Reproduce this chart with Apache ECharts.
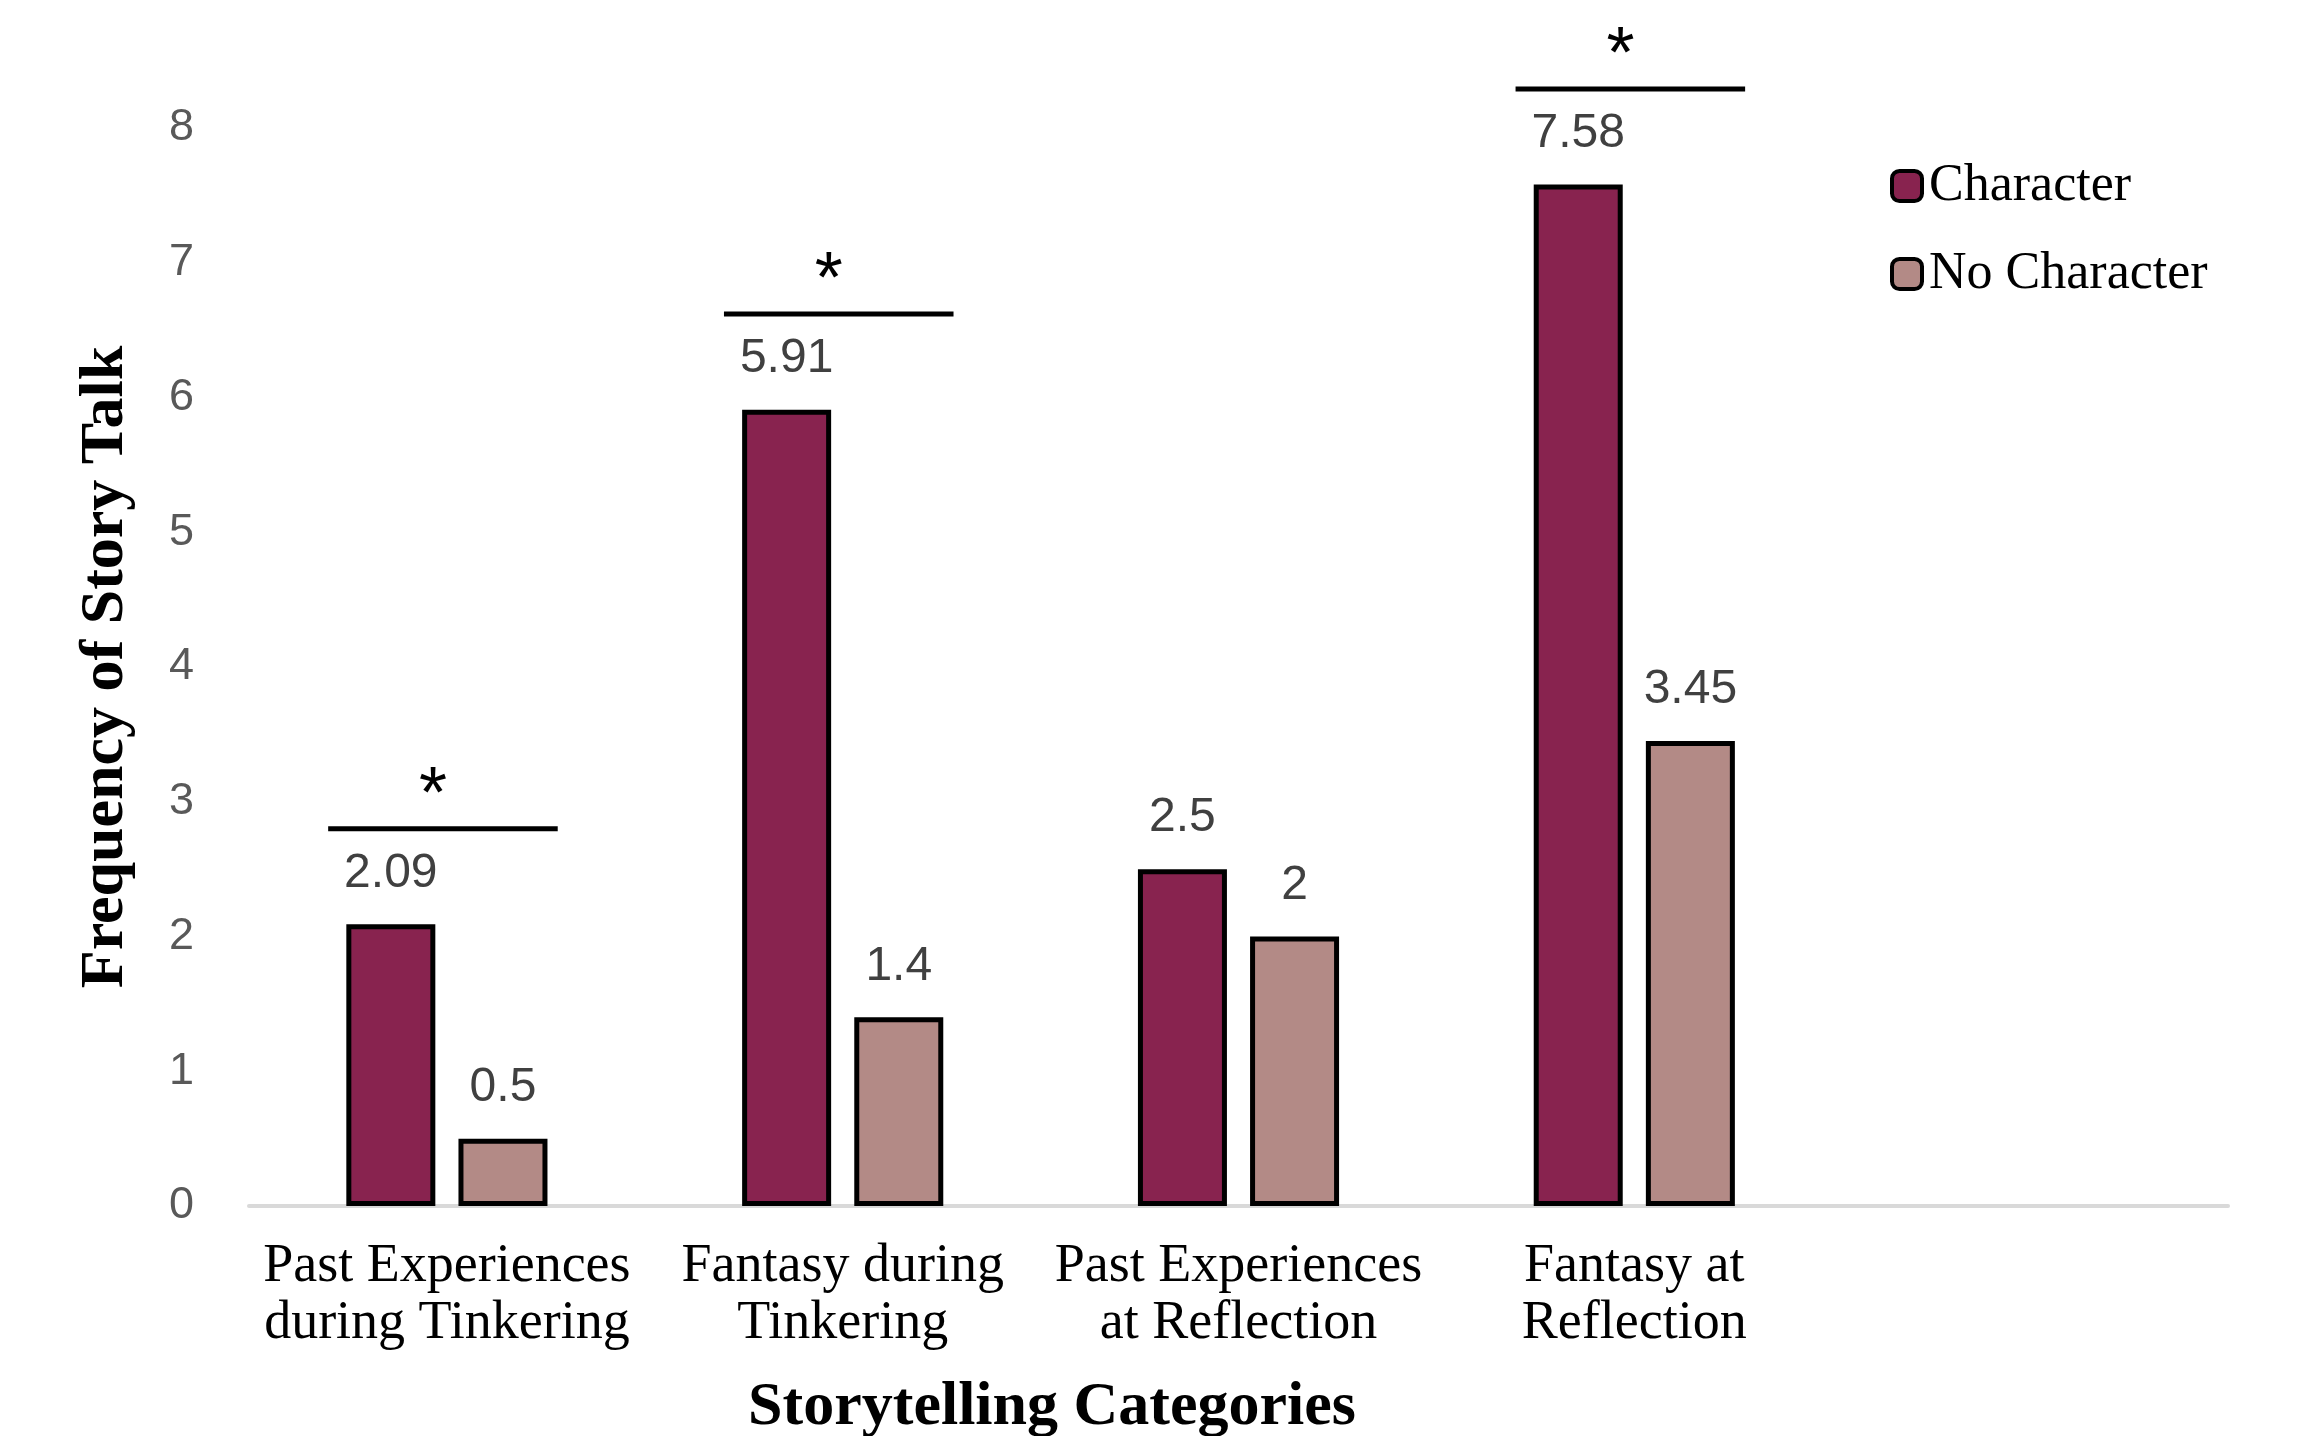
<!DOCTYPE html>
<html lang="en">
<head>
	<meta charset="UTF-8">
	<title>Storytelling Categories</title>
	<script type="text/javascript" src="https://cdn.jsdelivr.net/npm/echarts@6/dist/echarts.min.js"></script>
	<style>
		html, body { margin: 0; padding: 0; background: #fff; }
	</style>
</head>
<body>
	<div id="main" style="width: 2297px;height: 1436px;"></div>

	<script type="text/javascript">
		// categories (last one is empty, the axis runs one band further)
		var categories = ['Past Experiences\nduring Tinkering', 'Fantasy during\nTinkering',
			'Past Experiences\nat Reflection', 'Fantasy at\nReflection', ''];
		var characterData = [2.09, 5.91, 2.5, 7.58, null];
		var noCharacterData = [0.5, 1.4, 2, 3.45, null];
		// significance bars: category index and height of the bar line
		var sigCategory = [0, 1, 3];
		var sigLevel = [2.80, 6.62, 8.29];
		var yTicks = [0, 1, 2, 3, 4, 5, 6, 7, 8];

		var serif = '"Liberation Serif", "DejaVu Serif", serif';
		var sans = '"Liberation Sans", Arial, sans-serif';

		var chart = echarts.init(document.getElementById('main'));

		var sigData = [];
		for (var i = 0; i < sigCategory.length; i++) {
			sigData.push([sigCategory[i], sigLevel[i]]);
		}

		var option = {
			backgroundColor: '#fff',
			animation: false,
			grid: {
				left: 249,
				right: 69,
				top: 128,
				bottom: 230
			},
			legend: {
				orient: 'vertical',
				left: 1885,
				top: 155,
				itemWidth: 30,
				itemHeight: 30,
				itemGap: 36,
				data: ['Character', 'No Character'],
				itemStyle: { borderColor: '#000', borderWidth: 4 },
				textStyle: { fontFamily: serif, fontSize: 52, color: '#000', padding: [0, 0, 0, 2] }
			},
			xAxis: {
				type: 'category',
				data: categories,
				axisLine: { lineStyle: { color: '#d9d9d9', width: 4 } },
				axisTick: { show: false },
				axisLabel: {
					interval: 0,
					margin: 32,
					fontFamily: serif,
					fontSize: 54,
					lineHeight: 57,
					color: '#000'
				}
			},
			yAxis: {
				type: 'value',
				min: yTicks[0],
				max: yTicks[yTicks.length - 1],
				interval: 1,
				splitLine: { show: false },
				axisLine: { show: false },
				axisTick: { show: false },
				axisLabel: { fontFamily: sans, fontSize: 45, color: '#595959', margin: 55 },
				name: 'Frequency of Story Talk',
				nameLocation: 'middle',
				nameGap: 112,
				nameRotate: 90,
				nameTextStyle: { fontFamily: serif, fontWeight: 'bold', fontSize: 62, color: '#000' }
			},
			graphic: [{
				type: 'text',
				x: 1052,
				y: 1408,
				style: {
					text: 'Storytelling Categories',
					font: 'bold 62px ' + serif,
					fill: '#000',
					textAlign: 'center',
					textVerticalAlign: 'middle'
				}
			}],
			series: [
				{
					name: 'Character',
					type: 'bar',
					data: characterData,
					barWidth: 89,
					barGap: '26%',
					itemStyle: { color: '#88234F', borderColor: '#000', borderWidth: 5 },
					label: {
						show: true, position: 'top', distance: 27,
						fontFamily: sans, fontSize: 48, color: '#404040'
					}
				},
				{
					name: 'No Character',
					type: 'bar',
					data: noCharacterData,
					barWidth: 89,
					itemStyle: { color: '#B38A86', borderColor: '#000', borderWidth: 5 },
					label: {
						show: true, position: 'top', distance: 27,
						fontFamily: sans, fontSize: 48, color: '#404040'
					}
				},
				{
					type: 'custom',
					data: sigData,
					silent: true,
					renderItem: function (params, api) {
						var p = api.coord([api.value(0), api.value(1)]);
						var band = api.size([1, 0])[0];
						return {
							type: 'group',
							children: [{
								type: 'line',
								shape: { x1: p[0] - band * 0.3, y1: p[1], x2: p[0] + band * 0.28, y2: p[1] },
								style: { stroke: '#000', lineWidth: 5 }
							}, {
								type: 'text',
								x: p[0] - band * 0.035,
								y: p[1] - 32,
								style: {
									text: '*',
									font: '72px ' + sans,
									fill: '#000',
									textAlign: 'center',
									textVerticalAlign: 'middle'
								}
							}]
						};
					}
				}
			]
		};
		chart.setOption(option);
	</script>
</body>
</html>
